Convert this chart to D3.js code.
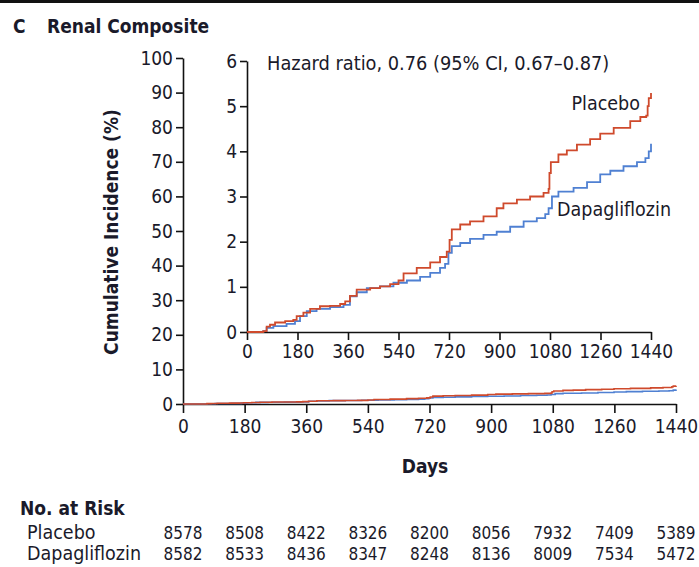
<!DOCTYPE html>
<html>
<head>
<meta charset="utf-8">
<script src="https://cdn.jsdelivr.net/npm/d3@7"></script>
<style>
  html, body { margin: 0; padding: 0; background: #fff; }
  svg { display: block; }
  text { font-family: "Liberation Sans Narrow", "DejaVu Sans Condensed", "Open Sans", sans-serif; fill: #1a1a2a; }
</style>
</head>
<body>
<svg id="chart" width="699" height="567"></svg>
<script>
// ---- data ----
const seriesNames = ["Placebo", "Dapagliflozin"];
const placeboDays = [0, 58, 70, 82, 100, 136, 165, 177, 201, 225, 260, 296, 332, 350, 367, 391, 439, 474, 510, 540, 558, 605, 653, 688, 712, 722, 730, 760, 795, 843, 890, 914, 962, 1009, 1057, 1075, 1078, 1083, 1110, 1140, 1176, 1223, 1259, 1307, 1366, 1402, 1423, 1428, 1432, 1440];
const placeboPct  = [0, 0.02, 0.12, 0.16, 0.21, 0.24, 0.27, 0.35, 0.43, 0.51, 0.57, 0.58, 0.62, 0.68, 0.80, 0.94, 0.97, 1.01, 1.06, 1.14, 1.30, 1.42, 1.54, 1.66, 1.78, 2.04, 2.27, 2.38, 2.45, 2.56, 2.74, 2.85, 2.93, 3.00, 3.08, 3.17, 3.52, 3.76, 3.93, 4.02, 4.15, 4.27, 4.39, 4.52, 4.67, 4.76, 4.79, 5.00, 5.18, 5.29];
const dapaDays = [0, 58, 70, 94, 141, 171, 189, 213, 248, 296, 344, 367, 391, 427, 474, 522, 570, 617, 653, 688, 706, 718, 730, 760, 795, 843, 890, 938, 986, 1033, 1063, 1075, 1087, 1110, 1164, 1212, 1259, 1295, 1342, 1390, 1420, 1432, 1440];
const dapaPct  = [0, 0.02, 0.09, 0.13, 0.18, 0.24, 0.35, 0.46, 0.51, 0.55, 0.60, 0.79, 0.88, 0.97, 1.01, 1.09, 1.14, 1.22, 1.31, 1.42, 1.51, 1.75, 1.90, 1.97, 2.06, 2.15, 2.22, 2.33, 2.45, 2.52, 2.61, 2.74, 3.00, 3.11, 3.19, 3.32, 3.49, 3.57, 3.67, 3.76, 3.85, 4.00, 4.17];
const xTicks = [0, 180, 360, 540, 720, 900, 1080, 1260, 1440];
const mainYTicks = [0, 10, 20, 30, 40, 50, 60, 70, 80, 90, 100];
const insetYTicks = [0, 1, 2, 3, 4, 5, 6];
const riskPlacebo = [8578, 8508, 8422, 8326, 8200, 8056, 7932, 7409, 5389];
const riskDapa    = [8582, 8533, 8436, 8347, 8248, 8136, 8009, 7534, 5472];
const hazardText = "Hazard ratio, 0.76 (95% CI, 0.67\u20130.87)";

const colors = { Placebo: "#cf4a2c", Dapagliflozin: "#4f80d2" };
const series = [
  { name: "Placebo", pts: placeboDays.map((d, i) => [d, placeboPct[i]]) },
  { name: "Dapagliflozin", pts: dapaDays.map((d, i) => [d, dapaPct[i]]) }
];

const svg = d3.select("#chart");
const fmt = d3.format("d");

// top rule
svg.append("rect").attr("x", 0).attr("y", 0).attr("width", 699).attr("height", 3).attr("fill", "#111");

// title
const title = svg.append("text").attr("x", 13).attr("y", 33)
  .style("font-weight", "bold").style("font-size", "19px");
title.append("tspan").text("C");
title.append("tspan").attr("x", 47).text("Renal Composite");

// ---- main chart ----
const mx = d3.scaleLinear().domain([0, 1440]).range([183, 676]);
const my = d3.scaleLinear().domain([0, 100]).range([404, 58]);

const line = (xs, ys) => d3.line().curve(d3.curveStepAfter).x(d => xs(d[0])).y(d => ys(d[1]));

const gMainX = svg.append("g").attr("transform", "translate(0,404)")
  .call(d3.axisBottom(mx).tickValues(xTicks).tickFormat(fmt).tickSize(9).tickPadding(7).tickSizeOuter(0));
const gMainY = svg.append("g").attr("transform", "translate(183,0)")
  .call(d3.axisLeft(my).tickValues(mainYTicks).tickFormat(fmt).tickSize(7).tickPadding(3).tickSizeOuter(0));

[gMainX, gMainY].forEach(g => {
  g.select(".domain").attr("stroke", "#111").attr("stroke-width", 1.6);
  g.selectAll(".tick line").attr("stroke", "#111").attr("stroke-width", 1.6);
  g.selectAll(".tick text").style("font-size", "19px").attr("fill", "#1a1a2a");
});

series.slice().reverse().forEach(s => {
  svg.append("path").attr("d", line(mx, my)(s.pts))
    .attr("fill", "none").attr("stroke", colors[s.name]).attr("stroke-width", 1.6);
});

// axis titles
svg.append("text").attr("transform", "translate(118,232) rotate(-90)")
  .attr("text-anchor", "middle").style("font-weight", "bold").style("font-size", "19px")
  .text("Cumulative Incidence (%)");
svg.append("text").attr("x", 425).attr("y", 473).attr("text-anchor", "middle")
  .style("font-weight", "bold").style("font-size", "19px").text("Days");

// ---- inset ----
const ix = d3.scaleLinear().domain([0, 1440]).range([247, 651]);
const iy = d3.scaleLinear().domain([0, 6]).range([332, 61]);

svg.append("rect").attr("x", 190).attr("y", 50).attr("width", 500).attr("height", 318).attr("fill", "#fff");

const gInX = svg.append("g").attr("transform", "translate(0,332)")
  .call(d3.axisBottom(ix).tickValues(xTicks).tickFormat(fmt).tickSize(8).tickPadding(5).tickSizeOuter(0));
const gInY = svg.append("g").attr("transform", "translate(247,0)")
  .call(d3.axisLeft(iy).tickValues(insetYTicks).tickFormat(fmt).tickSize(7).tickPadding(3).tickSizeOuter(0));
[gInX, gInY].forEach(g => {
  g.select(".domain").attr("stroke", "#111").attr("stroke-width", 1.6);
  g.selectAll(".tick line").attr("stroke", "#111").attr("stroke-width", 1.6);
  g.selectAll(".tick text").style("font-size", "19px").attr("fill", "#1a1a2a");
});

series.slice().reverse().forEach(s => {
  svg.append("path").attr("d", line(ix, iy)(s.pts))
    .attr("fill", "none").attr("stroke", colors[s.name]).attr("stroke-width", 1.8);
});

svg.append("text").attr("x", 267).attr("y", 70).style("font-size", "19.8px").text(hazardText);
svg.append("text").attr("x", 640).attr("y", 110).attr("text-anchor", "end").style("font-size", "19.5px").text("Placebo");
svg.append("text").attr("x", 557).attr("y", 216).style("font-size", "19.5px").text("Dapagliflozin");

// ---- number at risk ----
svg.append("text").attr("x", 20).attr("y", 515).style("font-weight", "bold").style("font-size", "19px").text("No. at Risk");
svg.append("text").attr("x", 27).attr("y", 539).style("font-size", "19.5px").text(seriesNames[0]);
svg.append("text").attr("x", 27).attr("y", 560).style("font-size", "19.5px").text(seriesNames[1]);
[riskPlacebo, riskDapa].forEach((row, r) => {
  svg.append("g").selectAll("text").data(row).join("text")
    .attr("x", (d, i) => mx(xTicks[i])).attr("y", r === 0 ? 539 : 560)
    .attr("text-anchor", "middle").style("font-size", "17px").text(d => d);
});
</script>
</body>
</html>
